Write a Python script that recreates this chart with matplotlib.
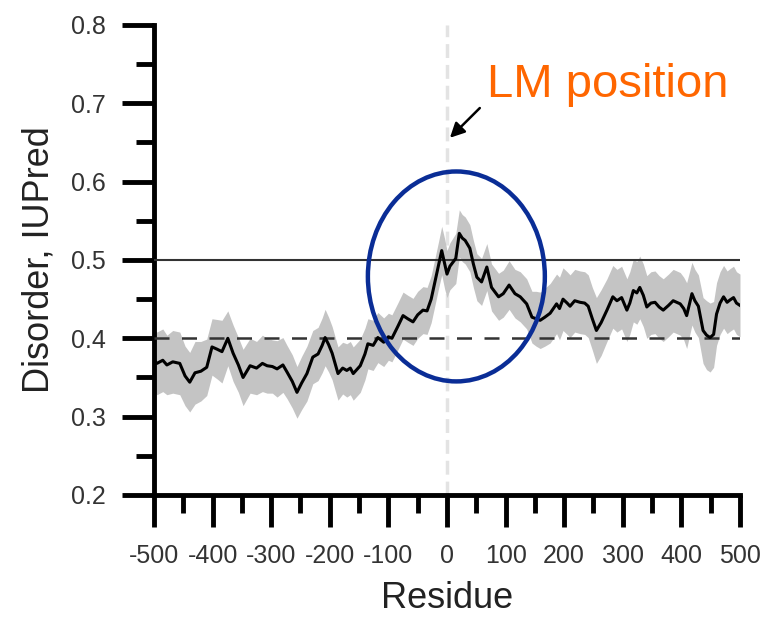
import matplotlib
matplotlib.use("Agg")
import matplotlib.pyplot as plt
from matplotlib.patches import Ellipse
from matplotlib.ticker import MultipleLocator
import numpy as np

plt.rcParams['font.family'] = ['Liberation Sans', 'DejaVu Sans']
plt.rcParams['axes.unicode_minus'] = False

# Residue position relative to the LM site, and mean IUPred disorder
residue = [-500, -495, -485, -478, -468, -456, -447, -439, -430, -420,
           -410, -401, -392, -384, -374, -365, -356, -348, -336, -325,
           -315, -307, -298, -290, -280, -273, -264, -256, -248, -239,
           -229, -220, -213, -208, -202, -196, -186, -178, -171, -165,
           -160, -148, -140, -135, -126, -118, -108, -100, -94, -84,
           -75, -67, -58, -50, -41, -34, -27, -20, -14, -9,
           -4, 0, 5, 10, 15, 21, 26, 31, 39, 45,
           51, 59, 68, 76, 88, 96, 106, 116, 125, 136,
           145, 152, 159, 167, 176, 187, 192, 198, 205, 210,
           218, 227, 235, 241, 248, 255, 263, 273, 283, 290,
           298, 307, 312, 318, 324, 329, 335, 341, 348, 355,
           362, 369, 378, 386, 392, 398, 404, 409, 418, 423,
           429, 437, 443, 449, 455, 460, 466, 472, 478, 483,
           489, 494, 500]
disorder = [0.372, 0.368, 0.372, 0.366, 0.370, 0.368, 0.352, 0.344, 0.356, 0.358,
            0.363, 0.389, 0.386, 0.383, 0.400, 0.381, 0.366, 0.350, 0.365, 0.362,
            0.368, 0.365, 0.364, 0.361, 0.366, 0.357, 0.345, 0.331, 0.343, 0.355,
            0.376, 0.380, 0.391, 0.401, 0.392, 0.381, 0.355, 0.362, 0.359, 0.362,
            0.355, 0.365, 0.380, 0.393, 0.391, 0.401, 0.395, 0.402, 0.400, 0.415,
            0.429, 0.425, 0.421, 0.430, 0.436, 0.435, 0.450, 0.474, 0.495, 0.512,
            0.495, 0.482, 0.492, 0.497, 0.502, 0.534, 0.528, 0.525, 0.515, 0.495,
            0.478, 0.472, 0.491, 0.465, 0.453, 0.457, 0.468, 0.457, 0.453, 0.444,
            0.427, 0.425, 0.423, 0.427, 0.432, 0.444, 0.438, 0.450, 0.445, 0.441,
            0.448, 0.446, 0.445, 0.441, 0.425, 0.410, 0.420, 0.436, 0.453, 0.448,
            0.452, 0.436, 0.445, 0.461, 0.458, 0.465, 0.455, 0.440, 0.445, 0.446,
            0.440, 0.436, 0.442, 0.448, 0.446, 0.444, 0.438, 0.429, 0.457, 0.448,
            0.441, 0.410, 0.404, 0.401, 0.405, 0.431, 0.445, 0.453, 0.446, 0.449,
            0.452, 0.445, 0.442]
# half width of the grey band around the mean
spread = [0.040, 0.040, 0.040, 0.038, 0.040, 0.040, 0.038, 0.038, 0.040, 0.038,
          0.036, 0.036, 0.038, 0.040, 0.035, 0.036, 0.035, 0.036, 0.035, 0.034,
          0.036, 0.035, 0.034, 0.036, 0.035, 0.034, 0.034, 0.033, 0.034, 0.035,
          0.034, 0.034, 0.035, 0.036, 0.035, 0.034, 0.034, 0.033, 0.034, 0.034,
          0.034, 0.034, 0.033, 0.032, 0.032, 0.032, 0.031, 0.030, 0.030, 0.030,
          0.030, 0.030, 0.030, 0.030, 0.030, 0.030, 0.030, 0.030, 0.030, 0.031,
          0.032, 0.030, 0.030, 0.031, 0.032, 0.030, 0.030, 0.030, 0.030, 0.030,
          0.030, 0.030, 0.030, 0.030, 0.030, 0.030, 0.031, 0.031, 0.032, 0.032,
          0.033, 0.035, 0.036, 0.037, 0.038, 0.038, 0.040, 0.040, 0.040, 0.040,
          0.040, 0.040, 0.040, 0.040, 0.040, 0.042, 0.042, 0.040, 0.040, 0.040,
          0.040, 0.040, 0.040, 0.040, 0.040, 0.040, 0.040, 0.040, 0.040, 0.040,
          0.040, 0.040, 0.040, 0.040, 0.040, 0.040, 0.040, 0.042, 0.040, 0.040,
          0.040, 0.042, 0.044, 0.044, 0.042, 0.040, 0.040, 0.040, 0.040, 0.040,
          0.040, 0.040, 0.040]

ellipse_center = (16, 0.479)
ellipse_size = (302, 0.268)

x = np.array(residue)
y = np.array(disorder)
s = np.array(spread)

fig = plt.figure(figsize=(7.65, 6.28), dpi=100)
ax = fig.add_axes([0.2013, 0.2118, 0.766, 0.7484])

ax.axvline(0, color='#e3e3e3', lw=2.5, ls=(0, (4, 2)), zorder=1)
ax.fill_between(x, y - s, y + s, color='#c4c4c4', lw=0, zorder=2)
ax.axhline(0.5, color='#333333', lw=1.5, zorder=3)
ax.axhline(0.4, color='#333333', lw=1.8, ls=(0, (6, 5)), zorder=3)
ax.plot(x, y, color='black', lw=2.2, zorder=4)

ax.add_patch(Ellipse(ellipse_center, *ellipse_size, fill=False,
                     edgecolor='#0a2d96', lw=3.2, zorder=5))

ax.annotate('', xy=(5, 0.656), xytext=(56, 0.694),
            arrowprops=dict(arrowstyle='-|>', color='black', lw=1.8,
                            mutation_scale=22, shrinkA=0, shrinkB=0))
ax.text(68, 0.708, 'LM position', color='#ff6600', fontsize=34,
        va='baseline', ha='left')

ax.set_xlim(-500, 500)
ax.set_ylim(0.2, 0.8)
ax.xaxis.set_major_locator(MultipleLocator(100))
ax.xaxis.set_minor_locator(MultipleLocator(50))
ax.yaxis.set_major_locator(MultipleLocator(0.1))
ax.yaxis.set_minor_locator(MultipleLocator(0.05))
ax.set_yticks(np.arange(0.2, 0.81, 0.1))
ax.set_yticklabels(['0.2', '0.3', '0.4', '0.5', '0.6', '0.7', '0.8'])

for side in ['top', 'right']:
    ax.spines[side].set_visible(False)
for side in ['left', 'bottom']:
    ax.spines[side].set_linewidth(3.5)

ax.tick_params(which='major', length=23, width=3.5, direction='out',
               labelsize=18, labelcolor='#333333', pad=12)
ax.tick_params(which='minor', length=13, width=3.5, direction='out')

ax.set_xlabel('Residue', fontsize=26, color='#222222', labelpad=10)
ax.set_ylabel('Disorder, IUPred', fontsize=26, color='#222222', labelpad=10)

fig.savefig('out.png', dpi=100)
